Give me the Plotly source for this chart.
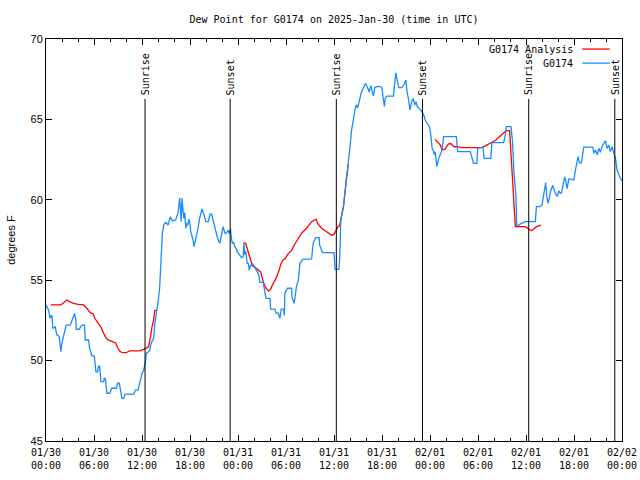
import plotly.graph_objects as go
import pandas as pd

BASE = pd.Timestamp("2025-01-30 00:00")

# ---- observed dew point (G0174), hours since 01/30 00:00 UTC ----
obs_hours = [0.0, 0.31, 0.52, 0.73, 0.86, 1.15, 1.36, 1.65, 1.86, 1.98, 2.28, 2.53, 3.03, 3.36, 3.57, 3.74, 3.78,
             4.15, 4.49, 4.82, 4.9, 5.32, 5.45, 5.74, 6.03, 6.16, 6.24, 6.45, 6.57, 6.7, 6.78, 6.87, 7.2, 7.28,
             7.41, 7.53, 7.62, 7.95, 8.24, 8.79, 8.95, 9.16, 9.29, 9.5, 9.7, 9.91, 10.96, 11.17, 11.5, 11.71,
             12.0, 12.21, 12.42, 12.54, 12.96, 13.13, 13.46, 13.6, 13.85, 14.05, 14.2, 14.34, 14.42, 14.55,
             14.71, 14.96, 15.26, 15.55, 15.8, 16.2, 16.5, 16.72, 16.8, 16.9, 17.0, 17.1, 17.22, 17.35, 17.47,
             17.6, 17.72, 17.85, 17.97, 18.1, 18.38, 18.5, 18.75, 19.0, 19.2, 19.5, 19.75, 19.97, 20.3, 20.5,
             20.7, 20.9, 21.2, 21.4, 21.6, 21.73, 21.93, 22.14, 22.35, 22.47, 22.63, 22.75, 22.9, 23.06, 23.2,
             23.3, 23.47, 23.6, 23.8, 23.9, 24.15, 24.44, 24.65, 24.73, 24.85, 24.97, 25.15, 25.3, 25.4, 25.55,
             25.86, 26.05, 26.4, 26.6, 26.73, 27.15, 27.25, 27.5, 28.0, 28.07, 28.6, 28.75, 29.05, 29.24, 29.4,
             29.7, 29.8, 29.85, 30.2, 30.7, 30.75, 31.03, 31.3, 31.55, 31.74, 32.1, 33.2, 33.3, 33.4, 33.7,
             34.15, 34.2, 34.55, 36.0, 36.13, 36.6, 36.7, 36.78, 36.85, 37.17, 37.4, 37.5, 37.67, 37.88, 38.0,
             38.2, 38.42, 38.7, 38.85, 38.95, 39.1, 39.38, 39.7, 39.96, 40.25, 40.4, 40.6, 40.8, 40.93, 41.1,
             41.6, 41.97, 42.1, 42.3, 42.4, 42.6, 43.43, 43.55, 43.72, 43.95, 44.1, 44.45, 44.8, 45.0, 45.1,
             45.3, 45.5, 45.7, 45.9, 46.1, 46.25, 46.4, 46.65, 46.97, 47.2, 47.4, 47.7, 47.93, 48.1, 48.27,
             48.45, 48.55, 48.65, 48.77, 48.85, 49.05, 49.28, 49.5, 49.7, 51.3, 51.4, 51.46, 53.03, 53.2, 53.45,
             53.86, 53.95, 54.3, 54.62, 54.7, 54.78, 55.6, 55.74, 57.2, 57.4, 57.54, 58.12, 58.3, 58.5, 58.75,
             58.83, 59.0, 59.3, 59.9, 61.17, 61.3, 61.7, 62.0, 62.1, 62.2, 62.33, 62.46, 62.6, 62.75, 62.92,
             63.05, 63.35, 63.6, 63.9, 64.1, 64.3, 64.45, 64.65, 64.85, 65.0, 65.14, 65.35, 65.55, 65.75, 65.97,
             66.18, 66.39, 66.5, 66.68, 66.93, 67.1, 67.22, 68.35, 68.48, 68.68, 68.9, 69.1, 69.3, 69.5, 69.72,
             69.93, 70.13, 70.35, 70.55, 70.76, 70.97, 71.18, 71.38, 71.6, 71.8, 72.0]
obs_values = [53.46, 53.15, 52.63, 52.84, 52.0, 52.1, 51.6, 51.5, 50.55, 51.07, 51.7, 52.2, 52.2, 52.73, 52.94, 52.5, 51.95,
              51.95, 52.2, 52.2, 51.28, 51.28, 50.76, 50.3, 50.3, 49.73, 49.3, 49.3, 49.66, 49.66, 49.1, 48.69, 48.69, 48.9,
              48.9, 48.38, 47.97, 47.97, 48.28, 48.28, 48.59, 48.59, 48.17, 47.65, 47.65, 47.92, 47.92, 48.17, 48.17, 48.69,
              49.2, 49.4, 49.9, 50.45, 50.6, 51.07, 51.4, 52.3, 53.0, 53.8, 54.5, 55.74, 57.08, 57.92,
              58.43, 58.6, 58.43, 58.95, 58.68, 58.75, 59.16, 60.13, 59.5, 58.64, 60.09, 59.67, 58.85, 59.2, 58.22,
              58.5, 58.45, 58.8, 58.6, 58.0, 57.5, 57.08, 57.6, 58.22, 58.85, 59.43, 59.06, 58.64, 58.64, 59.1,
              59.1, 58.64, 58.12, 57.7, 57.4, 57.3, 57.8, 58.33, 57.95, 57.9, 58.0, 58.1, 57.9, 58.2, 57.5,
              57.3, 57.35, 57.08, 56.95, 56.77, 56.6, 56.4, 56.45, 57.3, 56.6, 56.8, 56.05, 56.05, 55.63, 55.9,
              56.0, 55.8, 55.53, 55.35, 54.87, 54.87, 54.6, 53.87, 53.87, 53.2, 53.2, 52.95, 52.95, 52.63, 53.2,
              53.2, 52.8, 54.2, 54.5, 54.5, 53.93, 53.56, 54.6, 55.0, 56.05, 56.3, 56.32, 56.67, 57.3, 57.65,
              57.65, 57.19, 56.71, 56.71, 55.67, 55.67, 56.26, 57.4, 58.74, 59.57, 60.5, 61.12, 61.75, 62.58, 63.3,
              64.34, 65.0, 65.8, 65.9, 65.7, 66.0, 66.62, 67.0, 67.24, 66.9, 66.7, 67.1, 66.7, 66.45, 67.0,
              67.05, 67.0, 66.35, 65.8, 66.3, 66.45, 66.45, 67.3, 67.9, 67.3, 66.97, 66.97, 67.2, 67.45, 66.8,
              66.3, 65.58, 66.1, 66.3, 65.9, 66.1, 65.8, 65.7, 65.48, 65.3, 64.96, 64.7, 64.55, 64.03, 63.2,
              63.0, 62.8, 63.0, 62.47, 62.06, 62.5, 62.8, 63.1, 63.93, 63.93, 63.3, 63.0, 63.0, 62.7, 62.27,
              62.27, 63.2, 63.25, 63.25, 62.9, 62.58, 62.58, 63.55, 63.55, 63.97, 64.55, 64.55, 63.7, 61.65, 60.2,
              58.43, 58.4, 58.5, 58.64, 58.64, 59.57, 59.58, 59.67, 60.0, 60.2, 60.8, 61.06, 60.2, 59.78, 60.1,
              60.5, 60.9, 60.5, 60.2, 60.55, 60.4, 60.45, 60.98, 61.43, 61.1, 60.7, 61.3, 61.3, 61.25, 61.23,
              61.85, 62.37, 62.68, 62.3, 62.3, 62.9, 63.27, 63.27, 62.9, 63.1, 62.8, 63.2, 62.95, 63.3, 63.51,
              63.68, 63.2, 63.4, 63.0, 63.3, 62.9, 62.6, 61.85, 61.5, 61.33, 61.2]

# ---- analysis (three runs, gaps as None) ----
ana_hours = [0.6, 1.86, 2.2, 2.6, 3.0, 3.44, 4.0, 4.7, 5.0, 5.53, 5.9, 6.1, 6.57, 6.85, 7.12, 7.41, 7.7, 8.0, 8.45,
             8.7, 8.9, 9.2, 9.54, 10.0, 10.46, 11.0, 11.79, 12.2, 12.54, 12.8, 12.96, 13.1, 13.25, 13.45, 13.59, 13.88,
             None,
             24.65, 24.95, 25.2, 25.5, 25.8, 26.3, 26.6, 26.85, 27.15, 27.5, 27.8, 28.05, 28.3, 28.55, 28.8, 29.15,
             29.35, 29.6, 29.9, 30.3, 30.7, 31.03, 31.53, 31.95, 32.58, 32.9, 33.2, 33.75, 34.0, 34.46, 34.95, 35.3,
             35.7, 36.0, 36.15, 36.5, 36.7, 36.95, 37.2, 37.55, 37.8,
             None,
             48.65, 49.0, 49.3, 49.5, 49.9, 50.0, 50.3, 50.6, 51.0, 51.5, 51.9, 52.5, 53.3, 54.0, 54.5, 54.9, 55.4,
             55.8, 56.2, 56.5, 56.8, 57.2, 57.54, 57.95, 58.13, 58.38, 58.6, 58.67, 59.9, 60.3, 60.67, 61.0, 61.3,
             61.88]
ana_values = [53.46, 53.46, 53.6, 53.77, 53.65, 53.56, 53.5, 53.46, 53.3, 52.98, 52.9, 52.63, 52.28, 52.1, 51.8, 51.49,
              51.3, 51.25, 51.18, 51.1, 50.86, 50.6, 50.49, 50.49, 50.6, 50.6, 50.6, 50.7, 50.77, 50.85, 51.18, 51.65,
              52.1, 52.5, 53.1, 53.15,
              None,
              57.3, 57.3, 56.88, 56.36, 55.9, 55.74, 55.6, 55.5, 54.9, 54.5, 54.33, 54.4, 54.7, 54.95, 55.16, 55.63,
              56.0, 56.25, 56.35, 56.67, 56.84, 57.19, 57.6, 57.92, 58.23, 58.45, 58.64, 58.8, 58.5, 58.23, 58.08,
              57.92, 57.8, 57.85, 58.0, 58.33, 58.4, 59.0, 59.6, 61.3, 62.2,
              None,
              63.76, 63.6, 63.4, 63.1, 63.15, 63.25, 63.47, 63.5, 63.3, 63.3, 63.25, 63.25, 63.25, 63.25, 63.25, 63.35,
              63.47, 63.6, 63.7, 63.85, 63.97, 64.13, 64.3, 64.3, 62.9, 60.8, 58.8, 58.33, 58.33, 58.2, 58.08, 58.2,
              58.33, 58.43]

# ---- sunrise / sunset events ----
event_labels = ["Sunrise", "Sunset", "Sunrise", "Sunset", "Sunrise", "Sunset"]
event_hours = [12.38, 23.02, 36.29, 47.06, 60.34, 71.1]

# ---- axis ticks ----
tick_hours = [0, 6, 12, 18, 24, 30, 36, 42, 48, 54, 60, 66, 72]
tick_labels = ["01/30<br>00:00", "01/30<br>06:00", "01/30<br>12:00", "01/30<br>18:00",
               "01/31<br>00:00", "01/31<br>06:00", "01/31<br>12:00", "01/31<br>18:00",
               "02/01<br>00:00", "02/01<br>06:00", "02/01<br>12:00", "02/01<br>18:00",
               "02/02<br>00:00"]
y_ticks = [45, 50, 55, 60, 65, 70]

series_names = ["G0174 Analysis", "G0174"]
series_colors = ["#ff0000", "#1a8cff"]


def to_time(hours):
    return [None if h is None else BASE + pd.Timedelta(hours=h) for h in hours]


MONO = "DejaVu Sans Mono"
SANS = "Liberation Sans"

fig = go.Figure()
fig.add_trace(go.Scatter(x=to_time(ana_hours), y=ana_values, mode="lines", name=series_names[0],
                         line=dict(color=series_colors[0], width=1.3), connectgaps=False,
                         showlegend=False))
fig.add_trace(go.Scatter(x=to_time(obs_hours), y=obs_values, mode="lines", name=series_names[1],
                         line=dict(color=series_colors[1], width=1.3), showlegend=False))

shapes = []
annotations = []
line_top = 0.851
for lab, h in zip(event_labels, event_hours):
    t = BASE + pd.Timedelta(hours=h)
    shapes.append(dict(type="line", xref="x", yref="paper", x0=t, x1=t, y0=0, y1=line_top,
                       line=dict(color="black", width=1)))
    annotations.append(dict(text=lab, x=t, xref="x", y=line_top + 0.004, yref="paper",
                            xanchor="center", yanchor="bottom", textangle=-90, showarrow=False,
                            font=dict(family=MONO, size=10, color="black")))

# manual legend (text right-aligned, sample line to the right)
leg_y = [0.975, 0.940]
for name, col, yy in zip(series_names, series_colors, leg_y):
    annotations.append(dict(text=name, x=0.919, xref="paper", y=yy, yref="paper",
                            xanchor="right", yanchor="middle", showarrow=False,
                            font=dict(family=MONO, size=10, color="black")))
    shapes.append(dict(type="line", xref="paper", yref="paper", x0=0.931, x1=0.979, y0=yy, y1=yy,
                       line=dict(color=col, width=1.3)))

fig.update_layout(
    width=640, height=480,
    margin=dict(l=46, r=18, t=39, b=39, autoexpand=False),
    paper_bgcolor="white", plot_bgcolor="white",
    title=dict(text="Dew Point for G0174 on 2025-Jan-30 (time in UTC)", x=0.5, xref="paper",
               y=1 - 19 / 480, yref="container", xanchor="center", yanchor="middle",
               font=dict(family=MONO, size=10, color="black")),
    shapes=shapes, annotations=annotations,
    showlegend=False,
)
fig.update_xaxes(
    type="date", range=[BASE, BASE + pd.Timedelta(hours=72)], automargin=False,
    tickmode="array", tickvals=to_time(tick_hours), ticktext=tick_labels,
    ticks="inside", ticklen=6, tickcolor="black", tickwidth=1, ticklabelstandoff=2,
    minor=dict(tick0=BASE, dtick=2 * 3600 * 1000, ticks="inside", ticklen=3, tickcolor="black"),
    showline=True, linecolor="black", linewidth=1, mirror="ticks",
    showgrid=False, zeroline=False,
    tickfont=dict(family=MONO, size=10, color="black"),
)
fig.update_yaxes(
    range=[45, 70], tickmode="array", tickvals=y_ticks, automargin=False,
    ticks="inside", ticklen=6, tickcolor="black", tickwidth=1,
    showline=True, linecolor="black", linewidth=1, mirror="ticks",
    showgrid=False, zeroline=False,
    tickfont=dict(family=SANS, size=11, color="black"),
    title=dict(text="degrees F", font=dict(family=SANS, size=11, color="black"), standoff=12),
)

fig.write_html("out.html", config={"displayModeBar": False},
               post_script="document.body.style.margin='0';document.body.style.overflow='hidden';")
